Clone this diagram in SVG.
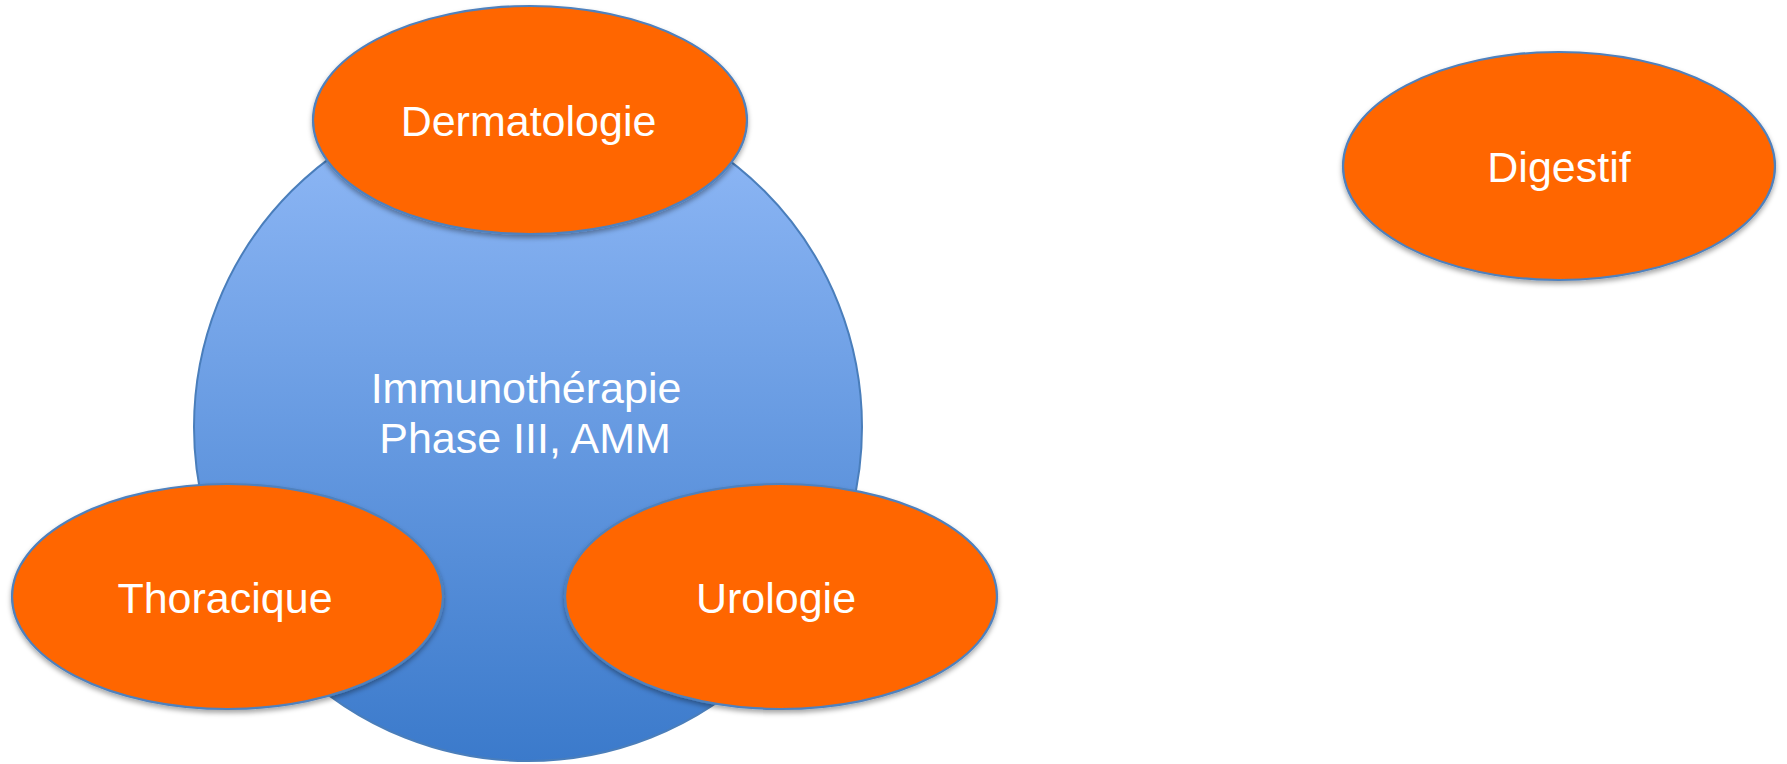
<svg xmlns="http://www.w3.org/2000/svg" width="1787" height="764" viewBox="0 0 1787 764">
  <defs>
    <linearGradient id="blueGrad" x1="0" y1="0" x2="0" y2="1">
      <stop offset="0" stop-color="#93bbf8"/>
      <stop offset="1" stop-color="#3b7acb"/>
    </linearGradient>
    <filter id="shadow" x="-10%" y="-10%" width="120%" height="130%">
      <feDropShadow dx="0" dy="3" stdDeviation="2.5" flood-color="#000" flood-opacity="0.35"/>
    </filter>
  </defs>
  <style>
    .hub { fill: url(#blueGrad); stroke: #4a7ebb; stroke-width: 2; }
    .leaf { fill: #ff6600; stroke: #4f81bd; stroke-width: 2.2; filter: url(#shadow); }
    .lbl { font-family: "Liberation Sans", Arial, sans-serif; font-size: 43px; fill: #ffffff; text-anchor: middle; }
  </style>
  <rect width="1787" height="764" fill="#ffffff"/>
  <g id="connectors"/>
  <g id="hub">
    <circle class="hub" cx="528" cy="427" r="334"/>
    <text class="lbl" x="526" y="403">Immunothérapie</text>
    <text class="lbl" x="525" y="453">Phase III, AMM</text>
  </g>
  <g id="dermatologie">
    <ellipse class="leaf" cx="530" cy="120" rx="217" ry="114"/>
    <text class="lbl" x="528.5" y="136">Dermatologie</text>
  </g>
  <g id="thoracique">
    <ellipse class="leaf" cx="227.5" cy="596.5" rx="215.5" ry="112.5"/>
    <text class="lbl" x="225" y="613">Thoracique</text>
  </g>
  <g id="urologie">
    <ellipse class="leaf" cx="781" cy="596.5" rx="216" ry="112.5"/>
    <text class="lbl" x="776" y="613">Urologie</text>
  </g>
  <g id="digestif">
    <ellipse class="leaf" cx="1559" cy="166" rx="216" ry="114"/>
    <text class="lbl" x="1559" y="182">Digestif</text>
  </g>
</svg>
